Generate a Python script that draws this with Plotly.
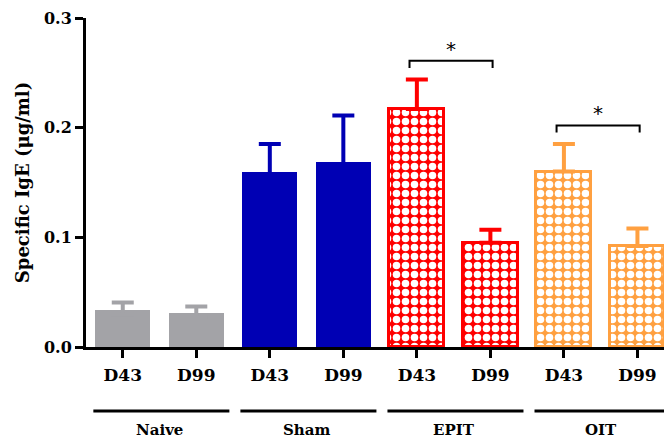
import plotly.graph_objects as go

groups = ["Naive", "Sham", "EPIT", "OIT"]
days = ["D43", "D99"]
means = {
    "Naive": [0.0335, 0.031],
    "Sham": [0.160, 0.169],
    "EPIT": [0.217, 0.095],
    "OIT": [0.160, 0.092],
}
errors = {
    "Naive": [0.007, 0.006],
    "Sham": [0.025, 0.042],
    "EPIT": [0.027, 0.012],
    "OIT": [0.025, 0.016],
}
colors = {"Naive": "#A3A3A7", "Sham": "#0000B4", "EPIT": "#FF0000", "OIT": "#FFA040"}
patterned = {"Naive": False, "Sham": False, "EPIT": True, "OIT": True}
significant_pairs = ["EPIT", "OIT"]
y_ticks = [0.0, 0.1, 0.2, 0.3]

serif = "DejaVu Serif, serif"
fig = go.Figure()

for gi, g in enumerate(groups):
    xs = [2 * gi, 2 * gi + 1]
    marker = dict(color=colors[g], line=dict(color=colors[g], width=3 if patterned[g] else 0))
    if patterned[g]:
        marker["pattern"] = dict(shape=".", bgcolor=colors[g], fgcolor="white", fgopacity=1,
                                 size=9, solidity=0.55, fillmode="overlay")
    fig.add_trace(go.Bar(x=xs, y=means[g], width=0.75, marker=marker, showlegend=False,
                         hoverinfo="skip"))

# upper error bars only (the lower cap is tucked inside the solid bars)
for gi, g in enumerate(groups):
    xs = [2 * gi, 2 * gi + 1]
    sink = 0.0 if patterned[g] else 0.004
    fig.add_trace(go.Scatter(
        x=xs, y=[m - sink for m in means[g]], mode="markers",
        marker=dict(size=1, color="rgba(0,0,0,0)"), showlegend=False, hoverinfo="skip",
        error_y=dict(type="data", symmetric=False, array=[e + sink for e in errors[g]],
                     arrayminus=[0, 0], color=colors[g], thickness=4, width=11),
    ))

# group underline and labels
for gi, g in enumerate(groups):
    x0, x1 = 2 * gi - 0.4, 2 * gi + 1.45
    fig.add_shape(type="line", xref="x", yref="paper", x0=x0, x1=x1, y0=-0.1945, y1=-0.1945,
                  line=dict(color="black", width=3))
    fig.add_annotation(x=2 * gi + 0.5, y=-0.252, xref="x", yref="paper", text=f"<b>{g}</b>",
                       showarrow=False, yanchor="middle", font=dict(family=serif, size=15, color="black"))

# significance brackets
for g in significant_pairs:
    gi = groups.index(g)
    xl, xr = 2 * gi - 0.1, 2 * gi + 1.03
    top = max(m + e for m, e in zip(means[g], errors[g])) + 0.017
    fig.add_shape(type="path", xref="x", yref="y",
                  path=f"M {xl},{top - 0.0065} L {xl},{top} L {xr},{top} L {xr},{top - 0.0065}",
                  line=dict(color="black", width=2))
    fig.add_annotation(x=(xl + xr) / 2, y=top, xref="x", yref="y", text="*", showarrow=False,
                       yanchor="bottom", yshift=-2, font=dict(family="DejaVu Sans", size=20, color="black"))

fig.update_layout(
    width=664, height=431,
    margin=dict(l=78, r=0, t=10, b=92),
    plot_bgcolor="white", paper_bgcolor="white",
    barmode="overlay", bargap=0,
    font=dict(family=serif, color="black"),
)
fig.update_xaxes(
    range=[-0.5, 7.47], tickmode="array", tickvals=list(range(8)),
    ticktext=[f"<b>{d}</b>" for _ in groups for d in days],
    tickfont=dict(family=serif, size=17, color="black"), ticklabelstandoff=3,
    showline=True, linecolor="black", linewidth=3, ticks="outside", ticklen=8, tickwidth=3,
    tickcolor="black", showgrid=False, zeroline=False,
)
fig.update_yaxes(
    range=[0, 0.3], tickmode="array", tickvals=y_ticks,
    ticktext=[f"<b>{v:.1f}</b>" for v in y_ticks],
    tickfont=dict(family=serif, size=16, color="black"),
    showline=True, linecolor="black", linewidth=3, ticks="outside", ticklen=8, tickwidth=3,
    tickcolor="black", showgrid=False, zeroline=False,
    title=dict(text="<b>Specific IgE (μg/ml)</b>", font=dict(family=serif, size=18, color="black"), standoff=10),
)

fig.write_html("out.html")
